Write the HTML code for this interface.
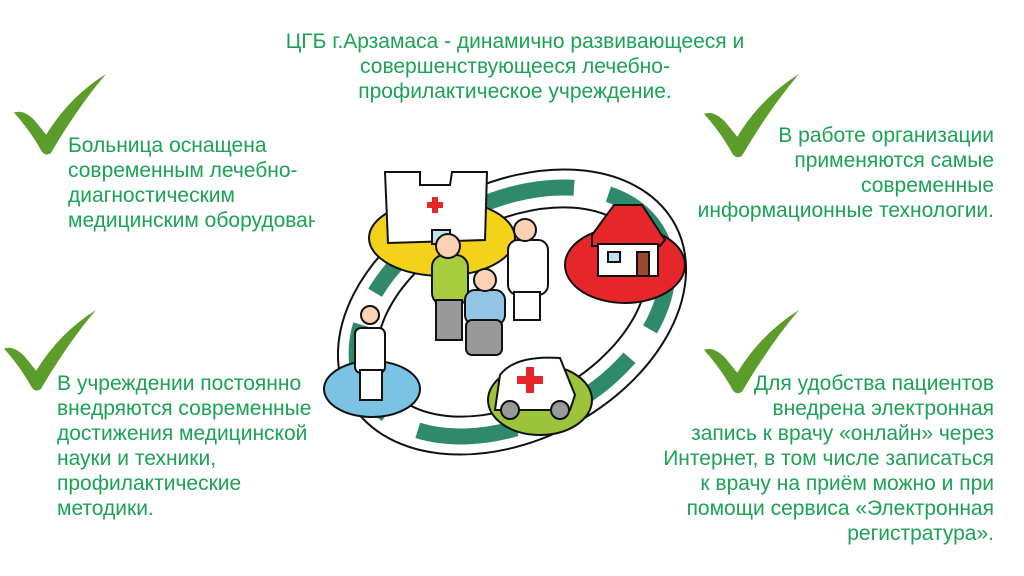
<!DOCTYPE html>
<html><head><meta charset="utf-8"><style>
body{margin:0;width:1024px;height:576px;background:#fff;overflow:hidden;position:relative;font-family:"Liberation Sans",sans-serif;color:#1ba255;font-size:21px;line-height:25px}
.t{position:absolute;white-space:nowrap}
.r{text-align:right}
</style></head><body>
<svg width="1024" height="576" style="position:absolute;left:0;top:0">
<defs><path id="ck" d="M0,42 Q10,38 22,50 L35,66 Q60,25 100,0 Q70,35 40,86 Q34,90 30,84 Q18,62 0,42Z" fill="#5b9c2a"/></defs>
<use href="#ck" transform="translate(14,74) scale(0.92)"/>
<use href="#ck" transform="translate(4,310) scale(0.92)"/>
<use href="#ck" transform="translate(704,74) scale(0.95)"/>
<use href="#ck" transform="translate(704,310) scale(0.95)"/>
<g stroke="#111" stroke-width="2">
<ellipse cx="512" cy="312" rx="185" ry="128" transform="rotate(-28 512 312)" fill="#fff"/>
<ellipse cx="512" cy="312" rx="166" ry="110" transform="rotate(-28 512 312)" fill="none" stroke="#2e8a6a" stroke-width="16" stroke-dasharray="100 35"/>
<ellipse cx="512" cy="312" rx="145" ry="90" transform="rotate(-28 512 312)" fill="#fff"/>
<ellipse cx="442" cy="238" rx="73" ry="38" fill="#f3d21a"/>
<ellipse cx="625" cy="265" rx="60" ry="38" fill="#e5262a"/>
<ellipse cx="372" cy="389" rx="48" ry="28" fill="#7bc3e4"/>
<ellipse cx="540" cy="400" rx="52" ry="35" fill="#9cc43a"/>
<path d="M385,172 L420,172 L420,185 L450,185 L452,172 L487,172 L485,240 L388,243Z" fill="#fff"/>
<rect x="432" y="230" width="18" height="14" fill="#bfe0ee"/>
<path d="M592,235 L614,205 L642,205 L665,240 L660,246 L592,246Z" fill="#e5262a"/>
<rect x="598" y="244" width="60" height="32" fill="#fff"/>
<rect x="637" y="252" width="12" height="24" fill="#9b4a2f"/>
<rect x="608" y="252" width="12" height="10" fill="#bfe0ee"/>
<path d="M495,410 L500,375 Q515,355 560,358 L575,395 L570,410Z" fill="#fff"/>
<circle cx="510" cy="410" r="9" fill="#999"/><circle cx="560" cy="410" r="9" fill="#999"/>
<rect x="432" y="255" width="36" height="50" rx="12" fill="#a7cd3e"/>
<rect x="436" y="300" width="26" height="40" fill="#999"/>
<circle cx="448" cy="246" r="12" fill="#fbd2b4"/>
<rect x="508" y="240" width="40" height="55" rx="10" fill="#fff"/>
<rect x="514" y="292" width="26" height="28" fill="#fff"/>
<circle cx="525" cy="230" r="11" fill="#fbd2b4"/>
<rect x="465" y="290" width="40" height="35" rx="10" fill="#92c4e6"/>
<rect x="466" y="320" width="36" height="35" rx="6" fill="#999"/>
<circle cx="485" cy="280" r="11" fill="#fbd2b4"/>
<rect x="355" y="328" width="30" height="45" rx="6" fill="#fff"/>
<rect x="360" y="370" width="22" height="30" fill="#fff"/>
<circle cx="370" cy="315" r="9" fill="#fbd2b4"/>
</g>
<g fill="#e5262a">
<rect x="427" y="202" width="16" height="6"/><rect x="432" y="197" width="6" height="16"/>
<rect x="517" y="376" width="26" height="8"/><rect x="526" y="367" width="8" height="26"/>
</g>
</svg>
<div class="t" style="left:265px;top:29px;width:500px;text-align:center">ЦГБ г.Арзамаса - динамично развивающееся и<br>совершенствующееся лечебно-<br>профилактическое учреждение.</div>
<div class="t" style="left:68px;top:133px;width:247px;overflow:hidden">Больница оснащена<br>современным лечебно-<br>диагностическим<br>медицинским оборудованием</div>
<div class="t" style="left:57px;top:371px;width:261px;overflow:hidden">В учреждении постоянно<br>внедряются современные<br>достижения медицинской<br>науки и техники,<br>профилактические<br>методики.</div>
<div class="t r" style="right:30px;top:123px">В работе организации<br>применяются самые<br>современные<br>информационные технологии.</div>
<div class="t r" style="right:30px;top:371px">Для удобства пациентов <br>внедрена электронная <br>запись к врачу «онлайн» через<br>Интернет, в том числе записаться<br>к врачу на приём можно и при<br>помощи сервиса «Электронная<br>регистратура».</div>
</body></html>
